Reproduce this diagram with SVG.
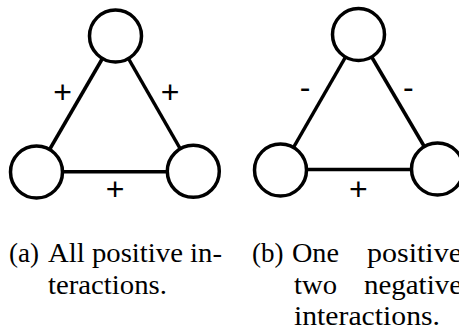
<svg xmlns="http://www.w3.org/2000/svg" width="459" height="329" viewBox="0 0 459 329">
<style>
.edge{stroke:#000;stroke-width:3.5;fill:none}
.node{stroke:#000;stroke-width:3.5;fill:#fff}
.sign{font-family:"Liberation Sans",Arial,sans-serif;font-size:32px;fill:#000;text-anchor:middle}
.cap{font-family:"Liberation Serif","Times New Roman",serif;font-size:27px;fill:#000}
</style>
<rect width="459" height="329" fill="#fff"/>
<g id="connectors">
<line class="edge" x1="115.5" y1="36" x2="36.5" y2="172"/>
<line class="edge" x1="115.5" y1="36" x2="193.3" y2="171.5"/>
<line class="edge" x1="36.5" y1="171.7" x2="193.3" y2="171.7"/>
<line class="edge" x1="358.5" y1="34.5" x2="280.5" y2="170"/>
<line class="edge" x1="358.5" y1="34.5" x2="437.5" y2="169"/>
<line class="edge" x1="280.5" y1="169.5" x2="437.5" y2="169.5"/>
</g>
<g id="a-top"><circle class="node" cx="115.5" cy="36" r="26"/></g>
<g id="a-left"><circle class="node" cx="36.5" cy="172" r="26"/></g>
<g id="a-right"><circle class="node" cx="193.3" cy="171.3" r="26"/></g>
<g id="b-top"><circle class="node" cx="358.5" cy="34.5" r="26"/></g>
<g id="b-left"><circle class="node" cx="280.5" cy="170" r="26"/></g>
<g id="b-right"><circle class="node" cx="437.5" cy="169" r="26"/></g>
<g id="labels">
<text class="sign" x="62.7" y="103">+</text>
<text class="sign" x="170" y="103">+</text>
<text class="sign" x="115" y="199.5">+</text>
<text class="sign" x="305" y="98.4">-</text>
<text class="sign" x="408.3" y="98.4">-</text>
<text class="sign" x="358.3" y="199.5">+</text>
</g>
<g id="captions">
<text class="cap" x="9" y="262">(a)</text>
<text class="cap" x="48" y="262" textLength="174" lengthAdjust="spacingAndGlyphs">All positive in-</text>
<text class="cap" x="48" y="294" textLength="119" lengthAdjust="spacingAndGlyphs">teractions.</text>
<text class="cap" x="252" y="262">(b)</text>
<text class="cap" x="292" y="262" textLength="47" lengthAdjust="spacingAndGlyphs">One</text>
<text class="cap" x="367" y="262" textLength="95" lengthAdjust="spacingAndGlyphs">positive</text>
<text class="cap" x="294" y="294" textLength="43" lengthAdjust="spacingAndGlyphs">two</text>
<text class="cap" x="364" y="294" textLength="98" lengthAdjust="spacingAndGlyphs">negative</text>
<text class="cap" x="294" y="325" textLength="146" lengthAdjust="spacingAndGlyphs">interactions.</text>
</g>
</svg>
